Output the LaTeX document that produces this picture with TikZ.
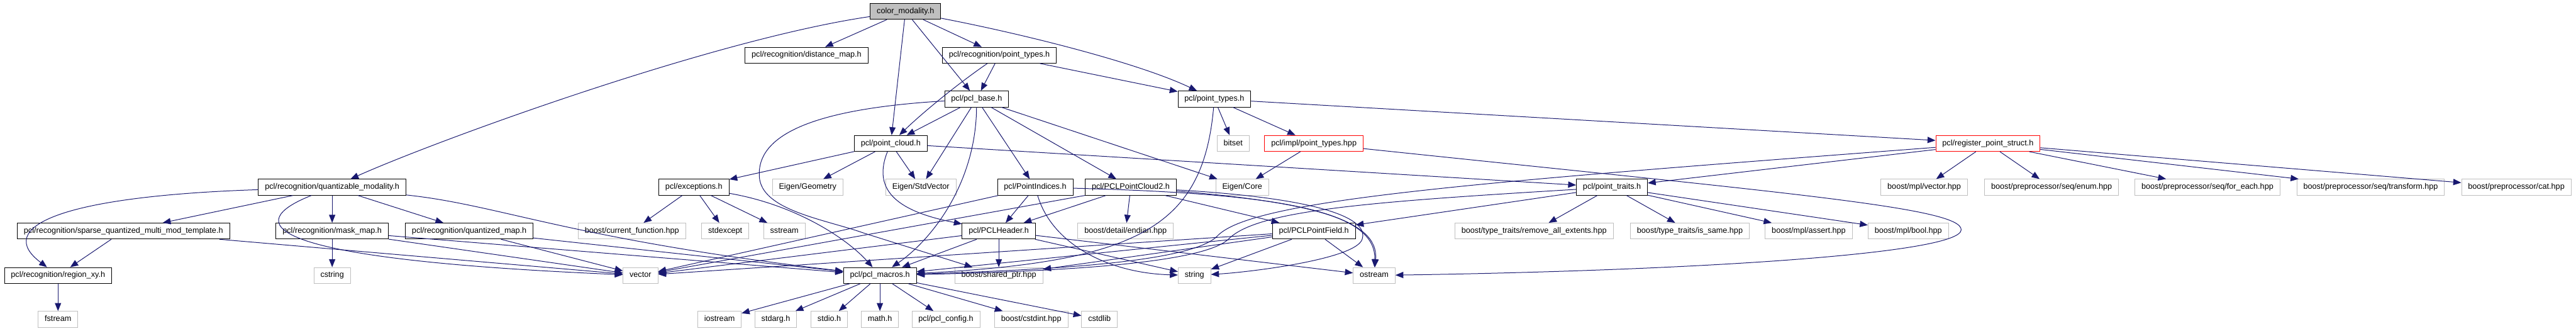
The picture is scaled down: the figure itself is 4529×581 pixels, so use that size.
\documentclass[tikz,border=0pt]{standalone}
\usepackage{fontspec}
\setmainfont{Liberation Sans}
\usetikzlibrary{arrows.meta}
\definecolor{greyseventyfive}{RGB}{191,191,191}
\definecolor{edgecol}{RGB}{25,25,112}
\definecolor{truncred}{RGB}{255,0,0}
\tikzset{
  nd/.style={draw=black, line width=0.5pt, fill=white, minimum height=14pt,
    inner xsep=5.75pt, inner ysep=0pt, text height=5.1pt, text depth=1.5pt,
    font=\fontsize{7pt}{8pt}\selectfont},
  ext/.style={nd, draw=greyseventyfive},
  trunc/.style={nd, draw=truncred},
  root/.style={nd, fill=greyseventyfive},
  conn/.style={draw=edgecol, line width=0.55pt, -{Triangle[length=7pt,width=5.5pt]}}
}
\begin{document}
\begin{tikzpicture}[x=0.5pt,y=-0.5pt]
\useasboundingbox (0,0) rectangle (4529,581);
\fill[white] (0,0) rectangle (4529,581);
% row 0
\node[root] (color) at (1592,20) {color\_modality.h};
% row 1
\node[nd] (dist) at (1418,97) {pcl/recognition/distance\_map.h};
\node[nd] (rpt) at (1757,97) {pcl/recognition/point\_types.h};
% row 2
\node[nd] (base) at (1717,174) {pcl/pcl\_base.h};
\node[nd] (pt) at (2135,174) {pcl/point\_types.h};
% row 3
\node[nd] (cloud) at (1566,252) {pcl/point\_cloud.h};
\node[ext] (bitset) at (2168,252) {bitset};
\node[trunc] (impl) at (2310,252) {pcl/impl/point\_types.hpp};
\node[trunc] (reg) at (3495,252) {pcl/register\_point\_struct.h};
% row 4
\node[nd] (quant) at (584,329) {pcl/recognition/quantizable\_modality.h};
\node[nd] (exc) at (1220,329) {pcl/exceptions.h};
\node[ext] (geom) at (1420,329) {Eigen/Geometry};
\node[ext] (stdvec) at (1619,329) {Eigen/StdVector};
\node[nd] (pind) at (1820,329) {pcl/PointIndices.h};
\node[nd] (pc2) at (1988,329) {pcl/PCLPointCloud2.h};
\node[ext] (ecore) at (2184,329) {Eigen/Core};
\node[nd] (traits) at (2834,329) {pcl/point\_traits.h};
\node[ext] (mplvec) at (3383,329) {boost/mpl/vector.hpp};
\node[ext] (senum) at (3607,329) {boost/preprocessor/seq/enum.hpp};
\node[ext] (sfor) at (3881,329) {boost/preprocessor/seq/for\_each.hpp};
\node[ext] (strans) at (4168,329) {boost/preprocessor/seq/transform.hpp};
\node[ext] (cat) at (4424,329) {boost/preprocessor/cat.hpp};
% row 5
\node[nd] (sparse) at (217,406) {pcl/recognition/sparse\_quantized\_multi\_mod\_template.h};
\node[nd] (mask) at (584,406) {pcl/recognition/mask\_map.h};
\node[nd] (qmap) at (825,406) {pcl/recognition/quantized\_map.h};
\node[ext] (curfn) at (1111,406) {boost/current\_function.hpp};
\node[ext] (stdexc) at (1275,406) {stdexcept};
\node[ext] (sstream) at (1379,406) {sstream};
\node[nd] (header) at (1756,406) {pcl/PCLHeader.h};
\node[ext] (endian) at (1979,406) {boost/detail/endian.hpp};
\node[nd] (field) at (2310,406) {pcl/PCLPointField.h};
\node[ext] (rae) at (2697,406) {boost/type\_traits/remove\_all\_extents.hpp};
\node[ext] (same) at (2971,406) {boost/type\_traits/is\_same.hpp};
\node[ext] (assert) at (3180,406) {boost/mpl/assert.hpp};
\node[ext] (bool) at (3355,406) {boost/mpl/bool.hpp};
% row 6
\node[nd] (region) at (102,484) {pcl/recognition/region\_xy.h};
\node[ext] (cstring) at (584,484) {cstring};
\node[ext] (vector) at (1126,484) {vector};
\node[nd] (macros) at (1547,484) {pcl/pcl\_macros.h};
\node[ext] (shared) at (1756,484) {boost/shared\_ptr.hpp};
\node[ext] (string) at (2100,484) {string};
\node[ext] (ostream) at (2416,484) {ostream};
% row 7
\node[ext] (fstream) at (102,561) {fstream};
\node[ext] (iostream) at (1265,561) {iostream};
\node[ext] (stdarg) at (1364,561) {stdarg.h};
\node[ext] (stdio) at (1458,561) {stdio.h};
\node[ext] (math) at (1547,561) {math.h};
\node[ext] (config) at (1663,561) {pcl/pcl\_config.h};
\node[ext] (cstdint) at (1813,561) {boost/cstdint.hpp};
\node[ext] (cstdlib) at (1933,561) {cstdlib};

% color_modality.h
\draw[conn] (color) -- (dist);
\draw[conn] (color) .. controls (1250,70) and (760,250) .. (quant);
\draw[conn] (color) -- (cloud);
\draw[conn] (color) -- (base);
\draw[conn] (color) -- (rpt);
\draw[conn] (color) .. controls (1800,60) and (2000,110) .. (pt);
% recognition/point_types.h
\draw[conn] (rpt) -- (base);
\draw[conn] (rpt) .. controls (1680,150) and (1620,200) .. (cloud);
\draw[conn] (rpt) -- (pt);
% pcl_base.h
\draw[conn] (base) -- (cloud);
\draw[conn] (base) .. controls (1450,190) and (1330,230) .. (1335,310)
  .. controls (1338,370) and (1450,385) .. (1520,410) -- (shared);
\draw[conn] (base) -- (stdvec);
\draw[conn] (base) .. controls (1716,320) and (1640,420) .. (macros);
\draw[conn] (base) -- (pind);
\draw[conn] (base) -- (pc2);
\draw[conn] (base) -- (ecore);
% point_cloud.h
\draw[conn] (cloud) -- (exc);
\draw[conn] (cloud) -- (geom);
\draw[conn] (cloud) .. controls (1535,330) and (1570,370) .. (header);
\draw[conn] (cloud) -- (stdvec);
\draw[conn] (cloud) -- (traits);
% point_types.h
\draw[conn] (pt) .. controls (2115,400) and (2000,460) .. (macros);
\draw[conn] (pt) -- (bitset);
\draw[conn] (pt) -- (impl);
\draw[conn] (pt) -- (reg);
% impl/point_types.hpp
\draw[conn] (impl) -- (ecore);
\draw[conn] (impl) .. controls (3150,340) and (3450,365) .. (3448,404)
  .. controls (3446,445) and (3000,475) .. (ostream);
% register_point_struct.h
\draw[conn] (reg) -- (mplvec);
\draw[conn] (reg) -- (senum);
\draw[conn] (reg) -- (sfor);
\draw[conn] (reg) -- (strans);
\draw[conn] (reg) -- (cat);
\draw[conn] (reg) -- (traits);
\draw[conn] (reg) .. controls (2600,320) and (2200,350) .. (2140,415)
  .. controls (2090,465) and (1800,475) .. (macros);
% point_traits.h
\draw[conn] (traits) -- (rae);
\draw[conn] (traits) -- (same);
\draw[conn] (traits) -- (assert);
\draw[conn] (traits) -- (bool);
\draw[conn] (traits) -- (field);
\draw[conn] (traits) .. controls (2400,355) and (2210,370) .. (2160,420)
  .. controls (2110,468) and (1800,478) .. (macros);
% quantizable_modality.h
\draw[conn] (quant) .. controls (100,345) and (-10,400) .. (region);
\draw[conn] (quant) -- (sparse);
\draw[conn] (quant) -- (mask);
\draw[conn] (quant) -- (qmap);
\draw[conn] (quant) .. controls (430,390) and (440,455) .. (vector);
\draw[conn] (quant) .. controls (880,360) and (1000,420) .. (macros);
% sparse / mask / quantized / region
\draw[conn] (sparse) -- (region);
\draw[conn] (sparse) -- (vector);
\draw[conn] (mask) -- (cstring);
\draw[conn] (mask) -- (vector);
\draw[conn] (mask) -- (macros);
\draw[conn] (qmap) -- (vector);
\draw[conn] (qmap) -- (macros);
\draw[conn] (region) -- (fstream);
% exceptions.h
\draw[conn] (exc) -- (curfn);
\draw[conn] (exc) -- (stdexc);
\draw[conn] (exc) -- (sstream);
\draw[conn] (exc) .. controls (1400,360) and (1490,420) .. (macros);
% PointIndices.h
\draw[conn] (pind) -- (header);
\draw[conn] (pind) .. controls (1850,430) and (1950,480) .. (string);
\draw[conn] (pind) -- (vector);
\draw[conn] (pind) .. controls (2250,340) and (2420,370) .. (ostream);
% PCLPointCloud2.h
\draw[conn] (pc2) -- (header);
\draw[conn] (pc2) -- (endian);
\draw[conn] (pc2) -- (vector);
\draw[conn] (pc2) -- (field);
\draw[conn] (pc2) .. controls (2300,355) and (2425,385) .. (ostream);
\draw[conn] (pc2) .. controls (2350,350) and (2405,390) .. (2395,420)
  .. controls (2385,455) and (2200,478) .. (string);
% PCLHeader.h
\draw[conn] (header) -- (shared);
\draw[conn] (header) -- (macros);
\draw[conn] (header) -- (vector);
\draw[conn] (header) -- (ostream);
\draw[conn] (header) -- (string);
% PCLPointField.h
\draw[conn] (field) -- (ostream);
\draw[conn] (field) -- (string);
\draw[conn] (field) -- (vector);
\draw[conn] (field) -- (shared);
\draw[conn] (field) -- (macros);
% pcl_macros.h
\draw[conn] (macros) -- (iostream);
\draw[conn] (macros) -- (stdarg);
\draw[conn] (macros) -- (stdio);
\draw[conn] (macros) -- (math);
\draw[conn] (macros) -- (config);
\draw[conn] (macros) -- (cstdint);
\draw[conn] (macros) -- (cstdlib);
\end{tikzpicture}
\end{document}
